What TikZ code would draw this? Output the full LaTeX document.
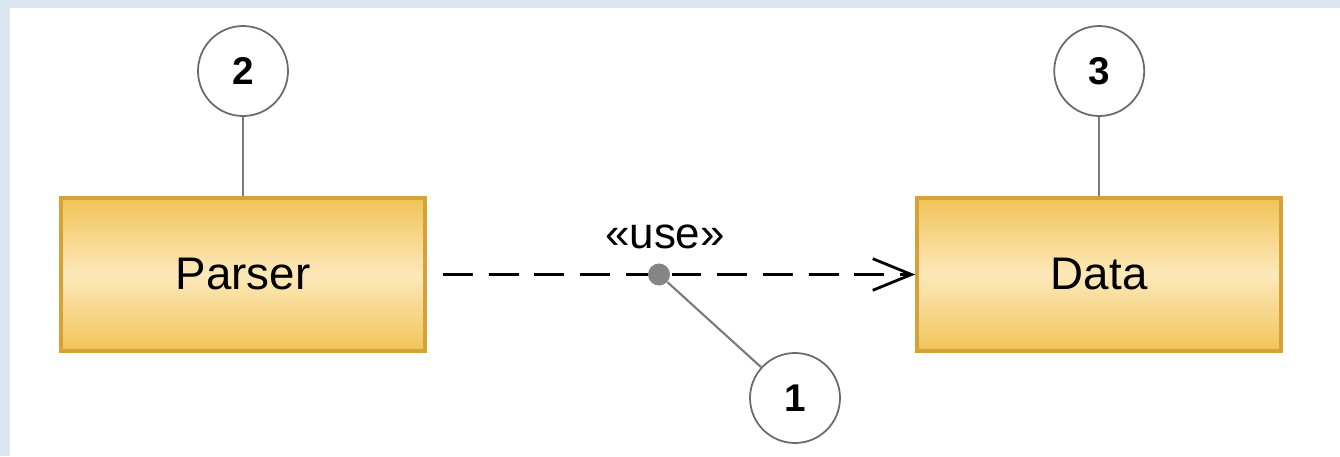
\documentclass[tikz,border=0pt]{standalone}
\usepackage{fontspec}
\setmainfont{Liberation Sans}
\usetikzlibrary{arrows.meta,positioning,calc}

\definecolor{frameblue}{HTML}{DCE6F2}
\definecolor{boxedge}{HTML}{D6A238}
\definecolor{boxtop}{HTML}{F0C458}
\definecolor{boxmid}{HTML}{FCE8BA}
\definecolor{notegray}{HTML}{6A6A6A}
\definecolor{linkgray}{HTML}{7A7A7A}
\definecolor{dotgray}{HTML}{858585}

\begin{document}
\begin{tikzpicture}[
cls/.style={rectangle,draw=boxedge,line width=2.4pt,minimum width=7.28cm,minimum height=3.06cm,
  top color=boxtop,bottom color=boxtop,middle color=boxmid,font=\fontsize{26}{30}\selectfont},
note/.style={circle,draw=notegray,line width=1pt,fill=white,minimum size=1.8cm,inner sep=0pt,
  font=\bfseries\fontsize{22}{26}\selectfont},
link/.style={draw=linkgray,line width=1.2pt},
dep/.style={dash pattern=on 17pt off 9pt,line width=1.7pt,-{Straight Barb[length=22pt,width=18pt,line width=1.6pt]}},
pin/.style={circle,fill=dotgray,minimum size=0.44cm,inner sep=0pt}]

% page and window edge
\fill[white] (0,0) rectangle (26.8,9.12);
\fill[frameblue] (0,8.96) rectangle (26.8,9.12);
\fill[frameblue] (0,0) rectangle (0.2,9.12);
\useasboundingbox (0,0) rectangle (26.8,9.12);

\node[cls] (parser) at (4.86,3.63) {Parser};
\node[cls, right=9.76cm of parser] (data) {Data};

% the dependency
\draw[dep, shorten <=0.32cm] (parser.east) -- (data.west);
\node[pin] (use) at (13.18,3.63) {};
\node[above=0.16cm of use, xshift=0.12cm, font=\fontsize{25}{28}\selectfont] (stereo) {«use»};

% numbered callouts
\node[note, above=1.58cm of parser] (n2) {2};
\node[note, above=1.58cm of data] (n3) {3};
\node[note] (n1) at (15.9,1.16) {1};
\draw[link] (n2) -- (parser);
\draw[link] (n3) -- (data);
\draw[link] (n1) -- (use);
\end{tikzpicture}
\end{document}
